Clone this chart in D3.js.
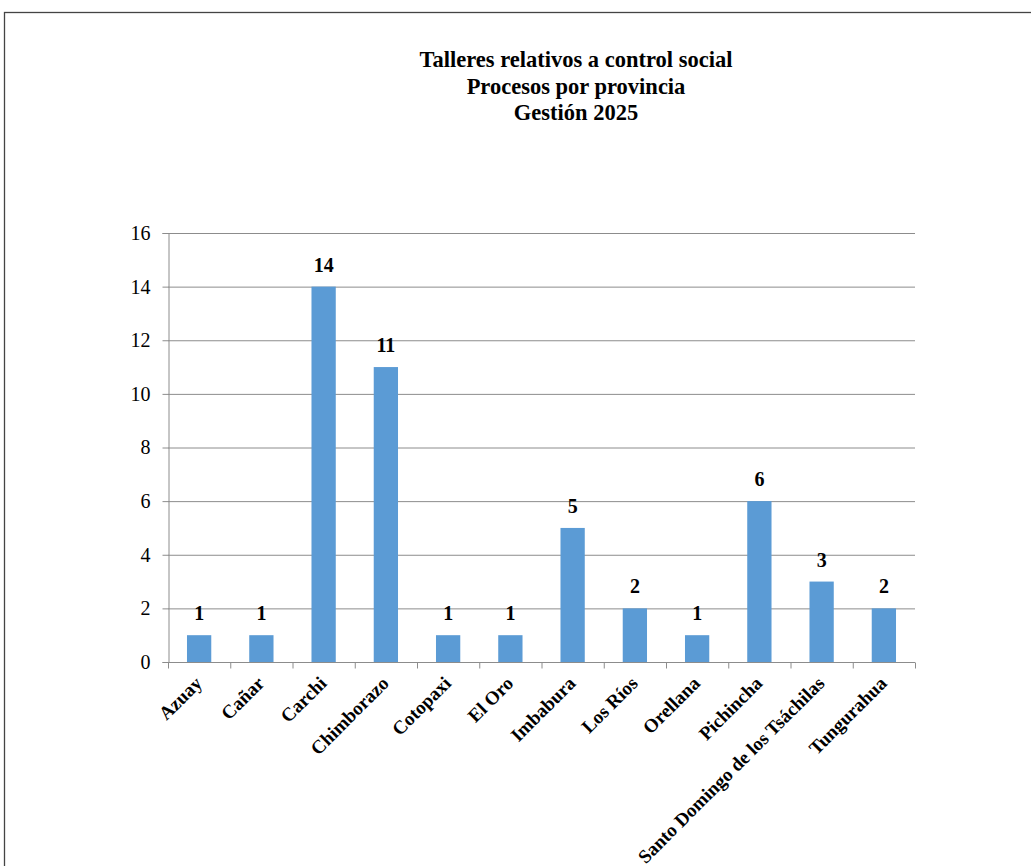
<!DOCTYPE html>
<html><head><meta charset="utf-8">
<script src="https://cdn.jsdelivr.net/npm/d3@7"></script>
<style>html,body{margin:0;padding:0;background:#fff;}svg{display:block;}
svg text{font-family:"Liberation Serif","Times New Roman","DejaVu Serif",serif;}</style>
</head><body>
<svg id="c" width="1031" height="866"></svg>
<script>
const categories = ["Azuay","Cañar","Carchi","Chimborazo","Cotopaxi","El Oro","Imbabura","Los Ríos","Orellana","Pichincha","Santo Domingo de los Tsáchilas","Tungurahua"];
const values = [1,1,14,11,1,1,5,2,1,6,3,2];
const yTicks = [0,2,4,6,8,10,12,14,16];
const titleLines = ["Talleres relativos a control social","Procesos por provincia","Gestión 2025"];

(function(){
const svg = d3.select("#c");
svg.append("rect").attr("x",4.5).attr("y",12.5).attr("width",1100).attr("height",1000)
  .attr("fill","#fff").attr("stroke","#444").attr("stroke-width",1.3);

const pL=168, pR=915, pT=233, pB=662;
const x = d3.scaleBand().domain(categories).range([pL,pR]).paddingInner(0.61).paddingOuter(0.305);
const y = d3.scaleLinear().domain([0,16]).range([pB,pT]);

svg.append("g").selectAll("line").data(yTicks.filter(d=>d>0)).join("line")
  .attr("x1",pL).attr("x2",pR).attr("y1",d=>y(d)+0.5).attr("y2",d=>y(d)+0.5)
  .attr("stroke","#8c8c8c").attr("stroke-width",1);

svg.append("g").selectAll("rect").data(values).join("rect")
  .attr("x",(d,i)=>x(categories[i])).attr("width",x.bandwidth())
  .attr("y",d=>y(d)).attr("height",d=>pB-y(d))
  .attr("fill","#5b9bd5");

const ya = svg.append("g").attr("transform",`translate(${pL+0.5},0)`)
  .call(d3.axisLeft(y).tickValues(yTicks).tickSize(6).tickPadding(12));
ya.attr("font-family",null);
ya.selectAll("path,line").attr("stroke","#8c8c8c");
ya.selectAll("text").attr("font-size",20).attr("fill","#000");

const step = x.step();
const xa = svg.append("g").attr("transform",`translate(0,${pB+0.5})`);
xa.append("line").attr("x1",pL).attr("x2",pR).attr("stroke","#8c8c8c");
xa.selectAll("line.t").data(d3.range(categories.length+1)).join("line").attr("class","t")
  .attr("x1",i=>pL+i*step+0.5).attr("x2",i=>pL+i*step+0.5).attr("y1",0).attr("y2",6)
  .attr("stroke","#8c8c8c");
xa.selectAll("text").data(categories).join("text")
  .attr("transform",d=>`translate(${x(d)+x.bandwidth()/2+4},${22}) rotate(-45)`)
  .attr("text-anchor","end").attr("font-weight","bold")
  .attr("font-size",19).attr("fill","#000").text(d=>d);

svg.append("g").selectAll("text").data(values).join("text")
  .attr("x",(d,i)=>x(categories[i])+x.bandwidth()/2).attr("y",d=>y(d)-15)
  .attr("text-anchor","middle").attr("font-weight","bold")
  .attr("font-size",20).attr("fill","#000").text(d=>d);

svg.append("g").selectAll("text").data(titleLines).join("text")
  .attr("x",576).attr("y",(d,i)=>67+i*26.5).attr("text-anchor","middle")
  .attr("font-weight","bold").attr("font-size",22.5).attr("fill","#000")
  .text(d=>d);
})();
</script>
</body></html>
